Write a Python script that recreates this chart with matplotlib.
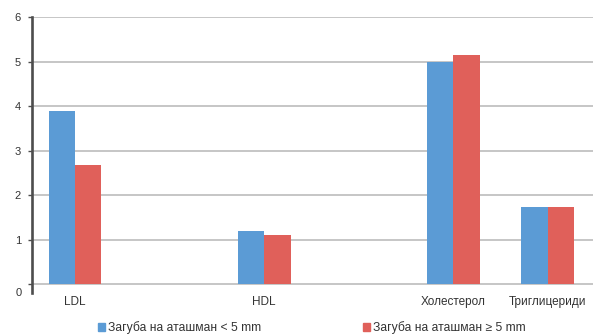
import numpy as np
import matplotlib
matplotlib.use("Agg")
from matplotlib import pyplot as plt
from matplotlib.patches import Patch

# Lipid values per group; blank slots keep the uneven spacing of the axis
categories = ["LDL", "", "HDL", "", "Холестерол", "Триглицериди"]
loss_under_5 = [3.9, np.nan, 1.2, np.nan, 5.0, 1.74]
loss_over_5 = [2.67, np.nan, 1.1, np.nan, 5.15, 1.73]
series_names = ["Загуба на аташман < 5 mm", "Загуба на аташман ≥ 5 mm"]

BLUE = "#5b9bd5"
RED = "#e0605a"
GRID = "#c6c6c6"
TEXT = "#333333"

plt.rcParams["font.family"] = ["Liberation Sans", "DejaVu Sans"]

fig = plt.figure(figsize=(5.93, 3.36), dpi=100)
ax = fig.add_axes([0.054, 0.128, 0.946, 0.821])

x = np.arange(len(categories))
width = 0.28
ax.bar(x - width / 2, loss_under_5, width, color=BLUE, zorder=3)
ax.bar(x + width / 2, loss_over_5, width, color=RED, zorder=3)

ax.set_xlim(-0.4545, 5.476)
ax.set_ylim(-0.2, 6)
ax.set_yticks(range(0, 7))
ax.set_yticklabels([""] + [str(v) for v in range(1, 7)])
ax.yaxis.grid(True, color=GRID, linewidth=1.4, zorder=0)
ax.set_axisbelow(True)

for side in ("top", "right", "bottom"):
    ax.spines[side].set_visible(False)
ax.spines["left"].set_color("#4d4d4d")
ax.spines["left"].set_linewidth(1.9)

ax.tick_params(axis="y", length=3, width=1, color="#4d4d4d",
               labelsize=8, labelcolor=TEXT, pad=5)
# the zero label sits at the foot of the axis, below the baseline
ax.annotate("0", xy=(0, -0.19), xycoords=("axes fraction", "data"),
            xytext=(-7.5, 0), textcoords="offset points",
            ha="right", va="center", fontsize=8, color=TEXT)

ax.set_xticks(x)
ax.set_xticklabels(categories, fontsize=8.5, color=TEXT)
ax.tick_params(axis="x", length=0, pad=2)

legend_opts = dict(loc="center left", frameon=False, fontsize=8.7,
                   handlelength=0.58, handleheight=0.58, handletextpad=0.25,
                   borderpad=0, labelcolor=TEXT)
fig.legend([Patch(color=BLUE)], series_names[:1],
           bbox_to_anchor=(0.155, 0.024), **legend_opts)
fig.legend([Patch(color=RED)], series_names[1:],
           bbox_to_anchor=(0.602, 0.024), **legend_opts)

fig.savefig("out.png", dpi=100)
